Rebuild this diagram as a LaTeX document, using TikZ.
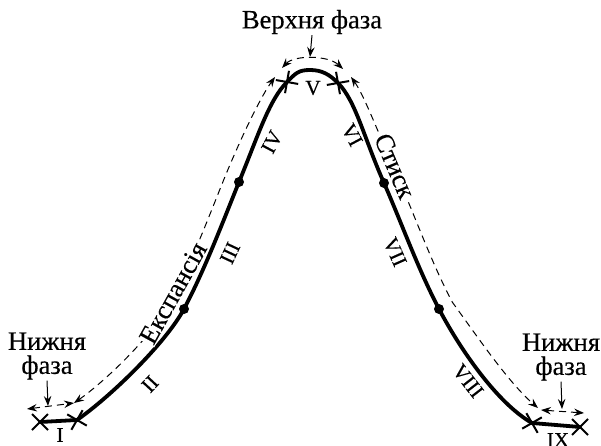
\documentclass[tikz,border=0pt]{standalone}
\usepackage{fontspec}
\setmainfont{Liberation Serif}[FakeBold=0.35]
\usetikzlibrary{arrows.meta,shapes.misc}
\begin{document}
\begin{tikzpicture}[x=1pt,y=-1pt,
  curveline/.style={line width=3.8pt, line join=round, line cap=round},
  dashline/.style={line width=1pt, dash pattern=on 7pt off 5pt},
  arrowhd/.tip={Stealth[length=10pt,width=7.5pt,inset=3.5pt]},
  onetip/.style={line width=1pt,-arrowhd},
  twotip/.style={arrowhd-arrowhd},
  lbl/.style={font=\fontsize{26.5}{24}\selectfont, inner sep=1pt, align=center},
  num/.style={font=\fontsize{21}{22}\selectfont, inner sep=1pt},
  xmark/.style={cross out, draw, line width=2pt, minimum size=14pt, inner sep=0pt},
  dotm/.style={circle, fill, inner sep=0pt, minimum size=10pt},
]
\useasboundingbox (0,0) rectangle (601,446);

% main curve
\draw[curveline] (40,422) -- (77,420)
  .. controls (110,397) and (165,344) .. (184,309)
  .. controls (205,269) and (222,224) .. (239,182)
  .. controls (258,136) and (269,100) .. (287,82)
  .. controls (295.5,73.5) and (298,70) .. (310,70)
  .. controls (322,70) and (329.5,74.5) .. (338,83)
  .. controls (355.7,100.7) and (363.7,137.3) .. (384,183)
  .. controls (402,224) and (418,269) .. (439,309)
  .. controls (460,349) and (497,403) .. (532,423)
  -- (580,427);

% crosses and dots
\node[xmark, rotate=0]   (xa) at (40,422) {};
\node[xmark, rotate=15]  (xb) at (77,420) {};
\node[xmark, rotate=35]  (xc) at (287,82) {};
\node[xmark, rotate=-35] (xd) at (338,83) {};
\node[xmark, rotate=-15] (xe) at (532,423) {};
\node[xmark, rotate=0]   (xf) at (580,427) {};
\node[dotm] (d1) at (184,309) {};
\node[dotm] (d2) at (239,182) {};
\node[dotm] (d3) at (384,183) {};
\node[dotm] (d4) at (439,309) {};

% dashed expansion / compression
\draw[dashline, twotip] (74,403)
  .. controls (103,383) and (151.8,337) .. (170.8,302)
  .. controls (191.8,262) and (208.1,218.4) .. (225.1,176.4)
  .. controls (244.1,130.4) and (262,95) .. (275,77);
\draw[dashline, twotip] (351,77)
  .. controls (364,95) and (377.4,131.2) .. (397.7,176.9)
  .. controls (415.7,217.9) and (431.2,262) .. (452.2,302)
  .. controls (479,339) and (509,383) .. (538,408);

% phases
\node[lbl] (top) at (312,22) {Верхня фаза};
\coordinate (tp) at (310,57);
\draw[onetip] (top.south) -- (tp);
\draw[dashline, twotip] (282,68) .. controls (294,55) and (328,55) .. (343,69);

\node[lbl] (nl) at (47,356) {Нижня\\фаза};
\coordinate (lp) at (48,406);
\draw[onetip] (nl.south) -- (lp);
\draw[dashline, twotip] (27,409) -- (74,403);

\node[lbl] (nr) at (561,357) {Нижня\\фаза};
\coordinate (rp) at (562,409);
\draw[onetip] (nr.south) -- (rp);
\draw[dashline, twotip] (541,410) -- (584,413);

% texts on dashed lines
\node[lbl, fill=white, rotate=61] (exp) at (173,293) {Експансія};
\node[lbl, fill=white, rotate=-67] (cmp) at (395,166) {Стиск};

% roman numerals
\node[num] (n1) at (60,435) {I};
\node[num, rotate=47] (n2) at (150,384) {II};
\node[num, rotate=65] (n3) at (230,253) {III};
\node[num, rotate=62] (n4) at (272,142) {IV};
\node[num] (n5) at (313,88) {V};
\node[num, rotate=-62] (n6) at (352,135) {VI};
\node[num, rotate=-66] (n7) at (395,252) {VII};
\node[num, rotate=-52] (n8) at (468,381) {VIII};
\node[num] (n9) at (558,440) {IX};
\end{tikzpicture}
\end{document}
